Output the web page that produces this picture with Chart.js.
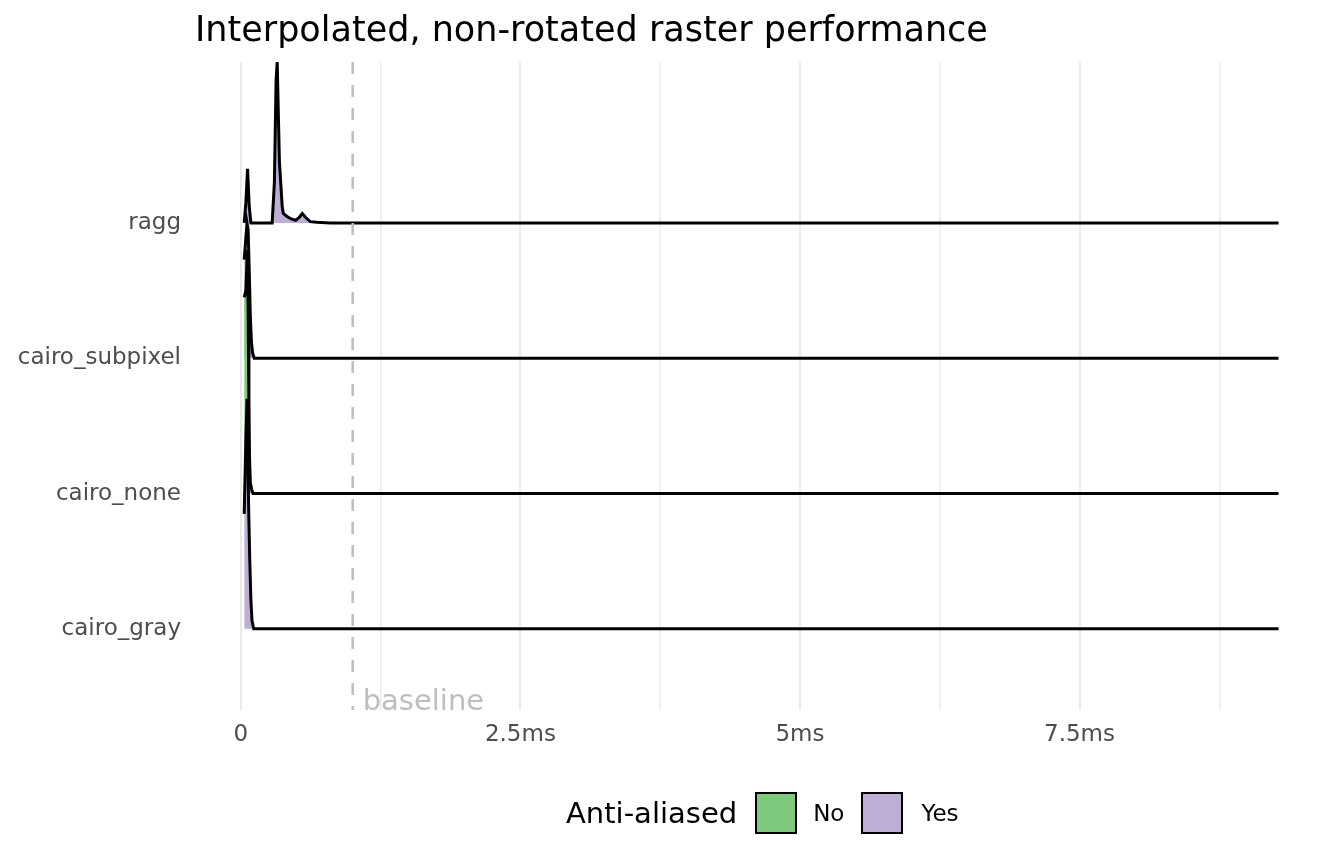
<!DOCTYPE html>
<html>
<head>
<meta charset="utf-8">
<script src="https://cdn.jsdelivr.net/npm/chart.js@4/dist/chart.umd.min.js"></script>
<style>
  html, body { margin: 0; padding: 0; background: #fff; }
  #wrap { position: relative; width: 1344px; height: 865px; font-family: "DejaVu Sans", sans-serif; }
  #c { position: absolute; left: 0; top: 0; }
  #title { position: absolute; left: 195px; top: 9px; font-size: 35px; line-height: 40px; color: #000; white-space: nowrap; }
  #legend { position: absolute; left: 566px; top: 790px; height: 45px; display: flex; align-items: center; white-space: nowrap; }
  #legend .lt { font-size: 29px; color: #000; margin-right: 18px; }
  #legend .box { width: 38px; height: 38px; border: 2.5px solid #000; box-sizing: content-box; }
  #legend .lab { font-size: 23px; color: #000; margin-left: 16px; margin-right: 17px; }
</style>
</head>
<body>
<div id="wrap">
  <canvas id="c" width="1344" height="865"></canvas>
  <div id="title">Interpolated, non-rotated raster performance</div>
  <div id="legend">
    <span class="lt">Anti-aliased</span>
    <span class="box" style="background:#7fc97f"></span><span class="lab">No</span>
    <span class="box" style="background:#beaed4"></span><span class="lab" style="margin-left:18px">Yes</span>
  </div>
</div>
<script>
// Categories (bottom to top)
const categories = ["cairo_gray", "cairo_none", "cairo_subpixel", "ragg"];
const antiAliased = ["Yes", "No", "Yes", "Yes"];

// Density curves: x in ms, heights in row-units
const raggX = [0.03, 0.045, 0.06, 0.075, 0.09, 0.28, 0.30, 0.315, 0.325, 0.345, 0.37, 0.38, 0.41, 0.45, 0.49, 0.52, 0.55, 0.58, 0.62, 0.68, 0.8, 9.28];
const raggH = [0.00, 0.15, 0.40, 0.12, 0.00, 0.00, 0.30, 1.05, 1.19, 0.45, 0.12, 0.07, 0.05, 0.03, 0.02, 0.04, 0.07, 0.04, 0.01, 0.005, 0, 0];

const subpixelX = [0.03, 0.055, 0.065, 0.075, 0.085, 0.095, 0.105, 0.12, 9.28];
const subpixelH = [0.73, 1.00, 0.95, 0.65, 0.30, 0.12, 0.04, 0, 0];

const noneX = [0.03, 0.045, 0.058, 0.066, 0.072, 0.078, 0.085, 0.10, 0.11, 9.28];
const noneH = [1.45, 1.50, 1.80, 1.30, 0.70, 0.25, 0.08, 0.02, 0, 0];

const grayX = [0.03, 0.045, 0.055, 0.062, 0.07, 0.08, 0.09, 0.10, 0.115, 9.28];
const grayH = [0.85, 1.40, 1.70, 1.35, 0.88, 0.50, 0.21, 0.06, 0, 0];

const xTicks = [0, 1.25, 2.5, 3.75, 5, 6.25, 7.5, 8.75];
const xTickLabels = {0: "0", 2.5: "2.5ms", 5: "5ms", 7.5: "7.5ms"};
const baselineMs = 1;
const fillColors = {No: "#7fc97f", Yes: "#beaed4"};

function ridge(xs, hs, row) {
  return xs.map((x, i) => ({x: x, y: row + hs[i]}));
}

const series = [
  {name: "cairo_gray", xs: grayX, hs: grayH, row: 1},
  {name: "cairo_none", xs: noneX, hs: noneH, row: 2},
  {name: "cairo_subpixel", xs: subpixelX, hs: subpixelH, row: 3},
  {name: "ragg", xs: raggX, hs: raggH, row: 4}
];

const datasets = series.map(s => ({
  label: s.name,
  data: ridge(s.xs, s.hs, s.row),
  borderColor: "#000",
  borderWidth: 3,
  backgroundColor: fillColors[antiAliased[s.row - 1]],
  fill: {value: s.row},
  pointRadius: 0,
  tension: 0,
  clip: 6
}));

const baselinePlugin = {
  id: "baselineLine",
  afterDatasetsDraw(chart) {
    const {ctx, chartArea, scales} = chart;
    const px = scales.x.getPixelForValue(baselineMs);
    ctx.save();
    ctx.strokeStyle = "#bebebe";
    ctx.lineWidth = 2.5;
    ctx.setLineDash([12, 11]);
    ctx.beginPath();
    ctx.moveTo(px, chartArea.top);
    ctx.lineTo(px, chartArea.bottom);
    ctx.stroke();
    ctx.setLineDash([]);
    ctx.fillStyle = "#bebebe";
    ctx.font = '29px "DejaVu Sans"';
    ctx.textBaseline = "alphabetic";
    ctx.textAlign = "left";
    ctx.fillText("baseline", px + 10, chartArea.bottom);
    ctx.restore();
  }
};

new Chart(document.getElementById("c"), {
  type: "line",
  data: {datasets: datasets},
  options: {
    responsive: false,
    animation: false,
    devicePixelRatio: 1,
    layout: {padding: {top: 62, right: 14, left: 0, bottom: 0}},
    plugins: {legend: {display: false}, title: {display: false}, tooltip: {enabled: false}},
    scales: {
      x: {
        type: "linear",
        min: -0.41,
        max: 9.74,
        afterBuildTicks: s => { s.ticks = xTicks.map(v => ({value: v})); },
        afterFit: s => { s.height = 155; },
        border: {display: false},
        grid: {
          color: "#ebebeb",
          lineWidth: c => (c.tick && (c.tick.value % 2.5 === 0) ? 2 : 1.5),
          drawTicks: false
        },
        ticks: {
          autoSkip: false,
          maxRotation: 0,
          padding: 11,
          color: "#4d4d4d",
          font: {family: "DejaVu Sans", size: 23},
          callback: v => (xTickLabels[v] !== undefined ? xTickLabels[v] : "")
        }
      },
      y: {
        type: "linear",
        min: 0.40,
        max: 5.19,
        afterBuildTicks: s => { s.ticks = [1, 2, 3, 4].map(v => ({value: v})); },
        afterFit: s => { s.width = 195; },
        border: {display: false},
        grid: {display: false, drawTicks: false},
        ticks: {
          autoSkip: false,
          padding: 14,
          color: "#4d4d4d",
          font: {family: "DejaVu Sans", size: 23},
          callback: v => categories[v - 1] || ""
        }
      }
    }
  },
  plugins: [baselinePlugin]
});
</script>
</body>
</html>
